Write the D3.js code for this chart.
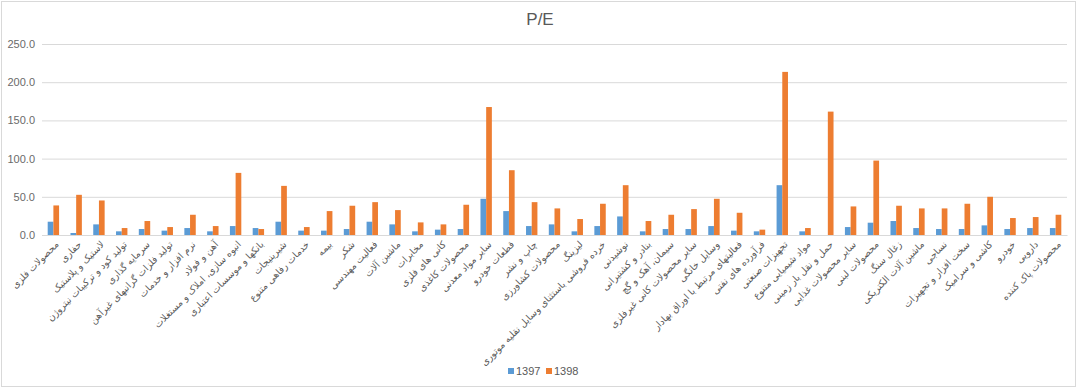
<!DOCTYPE html>
<html lang="fa">

<head>
    <meta charset="utf-8">
    <script src='https://d3js.org/d3.v7.min.js'></script>
    <style>
        body { margin: 0; background: #fff; }
        text { font-family: "Liberation Sans", "DejaVu Sans", sans-serif; }
    </style>
</head>

<body>
    <script>
        // categories (industry groups)
        const categories = [
            "محصولات فلزی", "حفاری", "لاستیک و پلاستیک", "تولید کود و ترکیبات نیتروژن",
            "سرمایه گذاری", "تولید فلزات گرانبهای غیرآهن", "نرم افزار و خدمات", "آهن و فولاد",
            "انبوه سازی، املاک و مستغلات", "بانکها و موسسات اعتباری", "شیرینیجات", "خدمات رفاهی متنوع",
            "بیمه", "شکر", "فعالیت مهندسی", "ماشین آلات", "مخابرات", "کانی های فلزی",
            "محصولات کاغذی", "سایر مواد معدنی", "قطعات خودرو", "چاپ و نشر", "محصولات کشاورزی",
            "لیزینگ", "خرده فروشی باستثنای وسایل نقلیه موتوری", "نوشیدنی", "بنادر و کشتیرانی",
            "سیمان، آهک و گچ", "سایر محصولات کانی غیرفلزی", "وسایل خانگی",
            "فعالیتهای مرتبط با اوراق بهادار", "فرآورده های نفتی", "تجهیزات صنعتی",
            "مواد شیمیایی متنوع", "حمل و نقل بار زمینی", "سایر محصولات غذایی", "محصولات لبنی",
            "زغال سنگ", "ماشین آلات الکتریکی", "نساجی", "سخت افزار و تجهیزات", "کاشی و سرامیک",
            "خودرو", "دارویی", "محصولات پاک کننده"
        ];
        const series = ["1397", "1398"];
        const values1397 = [
            17.4, 2.6, 13.9, 4.8, 7.8, 5.7, 9.1, 4.8, 11.7, 9.1, 17.4, 5.7, 5.7, 7.8, 17.4,
            13.9, 4.8, 7.0, 7.8, 47.4, 31.3, 11.7, 13.9, 4.8, 11.7, 24.3, 4.8, 7.8, 7.8, 11.7,
            5.7, 4.8, 65.2, 4.8, 0, 10.4, 16.1, 18.3, 9.1, 7.8, 7.8, 12.6, 7.8, 9.1, 9.1
        ];
        const values1398 = [
            38.7, 52.6, 45.2, 9.1, 18.3, 10.4, 26.5, 11.7, 81.3, 7.8, 64.3, 10.4, 31.3, 38.3, 43.0,
            32.6, 16.5, 13.9, 39.6, 167.5, 84.8, 43.0, 34.8, 20.9, 40.9, 65.2, 18.3, 26.5, 33.9, 47.4,
            29.1, 7.0, 213.5, 9.1, 161.5, 37.4, 97.4, 38.3, 34.8, 34.8, 40.9, 50.0, 22.2, 23.5, 26.5
        ];
        const yTicks = [0, 50, 100, 150, 200, 250];
        const colors = ["#5B9BD5", "#ED7D31"];

        const width = 1080;
        const height = 390;
        const plot = { left: 42, right: 1067, top: 44, bottom: 235 };

        const data = categories.map((c, i) => ({ cat: c, vals: [values1397[i], values1398[i]] }));

        const svg = d3.select("body")
            .append("svg")
            .attr("width", width)
            .attr("height", height);

        // chart border
        svg.append("rect")
            .attr("x", 1.5).attr("y", 1.5)
            .attr("width", 1074).attr("height", 385)
            .attr("fill", "#fff")
            .attr("stroke", "#D9D9D9");

        // title
        svg.append("text")
            .attr("x", 540).attr("y", 25)
            .attr("text-anchor", "middle")
            .attr("font-size", 17)
            .attr("fill", "#595959")
            .text("P/E");

        const x0 = d3.scaleBand()
            .domain(categories)
            .range([plot.left, plot.right])
            .paddingInner(0.5)
            .paddingOuter(0.25);
        const x1 = d3.scaleBand()
            .domain(series)
            .range([0, x0.bandwidth()]);
        const y = d3.scaleLinear()
            .domain([0, 250])
            .range([plot.bottom, plot.top]);

        // gridlines + y labels
        const yAxis = svg.append("g")
            .attr("transform", `translate(${plot.left},0)`)
            .call(d3.axisLeft(y)
                .tickValues(yTicks)
                .tickSize(-(plot.right - plot.left))
                .tickPadding(7)
                .tickFormat(d3.format(".1f")));
        yAxis.select(".domain").remove();
        yAxis.selectAll(".tick line").attr("stroke", "#D9D9D9");
        yAxis.selectAll(".tick text")
            .attr("fill", "#6a6a6a")
            .attr("font-size", 11)
            .style("font-family", "'Liberation Sans', sans-serif");

        // bars
        const groups = svg.append("g")
            .selectAll("g")
            .data(data)
            .join("g")
            .attr("transform", d => `translate(${x0(d.cat)},0)`);
        groups.selectAll("rect")
            .data(d => d.vals.map((v, k) => ({ key: series[k], v: v, k: k })))
            .join("rect")
            .attr("x", d => x1(d.key))
            .attr("width", x1.bandwidth())
            .attr("y", d => y(d.v))
            .attr("height", d => y(0) - y(d.v))
            .attr("fill", d => colors[d.k]);

        // x axis
        const xAxis = svg.append("g")
            .attr("transform", `translate(0,${plot.bottom})`)
            .call(d3.axisBottom(x0).tickSize(0).tickPadding(0));
        xAxis.select(".domain").attr("stroke", "#D9D9D9");
        xAxis.selectAll(".tick text")
            .attr("fill", "#595959")
            .attr("font-size", 9.5)
            .attr("text-anchor", "end")
            .attr("dy", 0)
            .attr("y", 0)
            .attr("transform", "translate(6,10) rotate(-45)")
            .style("font-family", "'DejaVu Sans', sans-serif");

        // legend
        const legend = svg.append("g")
            .attr("transform", "translate(508,366)");
        series.forEach((s, i) => {
            const g = legend.append("g").attr("transform", `translate(${i * 38},0)`);
            g.append("rect")
                .attr("width", 6).attr("height", 6)
                .attr("y", 2)
                .attr("fill", colors[i]);
            g.append("text")
                .attr("x", 8).attr("y", 9)
                .attr("font-size", 11)
                .attr("fill", "#595959")
                .text(s);
        });
    </script>

</body>

</html>
